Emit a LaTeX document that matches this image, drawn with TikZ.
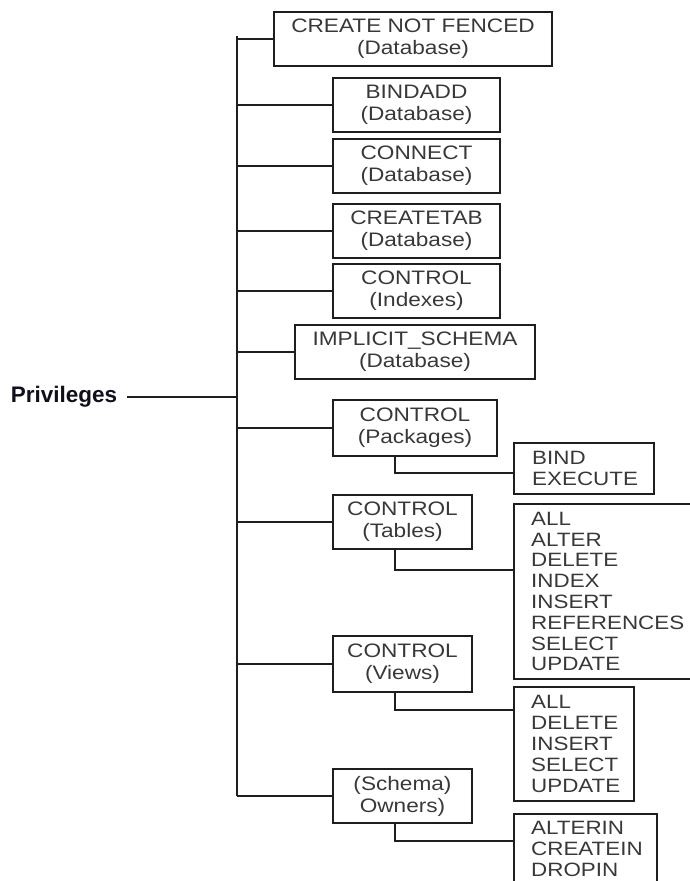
\documentclass[tikz,border=0pt]{standalone}
\usepackage{fontspec}
\setmainfont{Liberation Sans}
\newfontfamily\boxfont[FakeStretch=1.16]{Liberation Sans}
\definecolor{txt}{HTML}{383838}
\definecolor{ln}{HTML}{1E1E1E}
\definecolor{privc}{HTML}{10101C}
\begin{document}
\begin{tikzpicture}[x=1pt,y=-1pt,
  box/.style={draw=ln, line width=2pt, rectangle, inner sep=0pt, align=center, text=txt,
              font=\boxfont\fontsize{19.5}{22}\selectfont},
  listbox/.style={draw=ln, line width=2pt, rectangle, inner sep=0pt},
  listtext/.style={anchor=west, inner sep=0pt, align=left, text=txt,
              font=\boxfont\fontsize{19.3}{20.8}\selectfont},
  conn/.style={draw=ln, line width=2pt}
]
\useasboundingbox (0,0) rectangle (690,881);
\clip (0,0) rectangle (690,881);

% main boxes
\node[box, minimum width=278pt, minimum height=54pt] (cnf) at (413,39) {CREATE NOT FENCED\\(Database)};
\node[box, minimum width=167pt, minimum height=54pt] (bindadd) at (416.5,105) {BINDADD\\(Database)};
\node[box, minimum width=167pt, minimum height=54pt] (connect) at (416.5,166) {CONNECT\\(Database)};
\node[box, minimum width=167pt, minimum height=54pt] (createtab) at (416.5,231) {CREATETAB\\(Database)};
\node[box, minimum width=167pt, minimum height=54pt] (ctlidx) at (416.5,291) {CONTROL\\(Indexes)};
\node[box, minimum width=240pt, minimum height=54pt] (implicit) at (415,352) {IMPLICIT\_SCHEMA\\(Database)};
\node[box, minimum width=164pt, minimum height=56pt] (pkg) at (415,428) {CONTROL\\(Packages)};
\node[box, minimum width=139pt, minimum height=54pt] (tables) at (402.5,522) {CONTROL\\(Tables)};
\node[box, minimum width=139pt, minimum height=56pt] (views) at (402.5,664) {CONTROL\\(Views)};
\node[box, minimum width=139pt, minimum height=54pt] (owners) at (402.5,796) {(Schema)\\Owners)};

% list boxes
\node[listbox, minimum width=140pt, minimum height=51pt] (pkglist) at (584,468.5) {};
\node[listtext] (pkgtext) at ([xshift=19pt]pkglist.west) {BIND\\EXECUTE};
\node[listbox, minimum width=196pt, minimum height=175pt] (tbllist) at (612,591.5) {};
\node[listtext] (tbltext) at ([xshift=18pt]tbllist.west) {ALL\\ALTER\\DELETE\\INDEX\\INSERT\\REFERENCES\\SELECT\\UPDATE};
\node[listbox, minimum width=120pt, minimum height=114pt] (viewlist) at (574,744) {};
\node[listtext] (viewtext) at ([xshift=18pt]viewlist.west) {ALL\\DELETE\\INSERT\\SELECT\\UPDATE};
\node[listbox, minimum width=143pt, minimum height=70pt] (ownlist) at (585.5,849) {};
\node[listtext] (owntext) at ([xshift=18pt]ownlist.west) {ALTERIN\\CREATEIN\\DROPIN};

% root label
\node[inner sep=0pt, text=privc, font=\fontsize{22.5}{26}\selectfont\bfseries] (priv) at (64,397) {Privileges};

% trunk
\coordinate (ttop) at (237,36);
\draw[conn] (ttop) -- (ttop |- owners.west);
\draw[draw=ln, line width=2.4pt] ([xshift=10pt]priv.east) -- (priv.east -| ttop);

% branches
\foreach \b in {cnf,bindadd,connect,createtab,ctlidx,implicit,pkg,tables,views,owners}
  \draw[conn] (ttop |- \b.west) -- (\b.west);

% stems to lists
\draw[conn] ([xshift=63pt]pkg.south west) |- ([yshift=-31pt]pkglist.north west);
\draw[conn] ([xshift=63pt]tables.south west) |- ([yshift=-67pt]tbllist.north west);
\draw[conn] ([xshift=63pt]views.south west) |- ([yshift=-24pt]viewlist.north west);
\draw[conn] ([xshift=63pt]owners.south west) |- ([yshift=-28pt]ownlist.north west);
\end{tikzpicture}
\end{document}
